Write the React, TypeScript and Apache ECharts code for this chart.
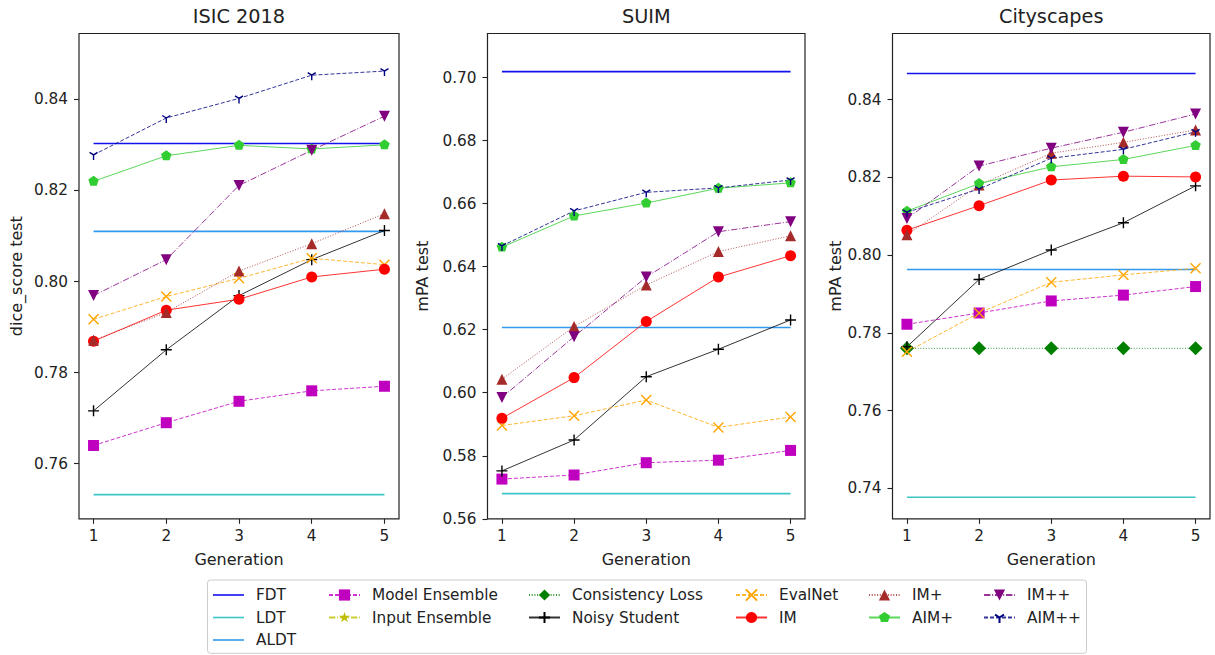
import React, { useEffect, useRef } from "react";
import * as echarts from "echarts";

// ---- data -------------------------------------------------------------
const generations = [1, 2, 3, 4, 5];
const panelTitles = ["ISIC 2018", "SUIM", "Cityscapes"];
const yAxisNames = ["dice_score test", "mPA test", "mPA test"];

// reference training baselines (constant across generations)
const fdt = [0.8303, 0.7019, 0.8467];
const ldt = [0.7532, 0.568, 0.7377];
const aldt = [0.811, 0.6207, 0.7963];

// ISIC 2018
const isicModelEnsemble = [0.764, 0.769, 0.7737, 0.776, 0.777];
const isicInputEnsemble: number[] = [];
const isicConsistencyLoss: number[] = [];
const isicNoisyStudent = [0.7716, 0.785, 0.7969, 0.8048, 0.8112];
const isicEvalNet = [0.7917, 0.7967, 0.8007, 0.8051, 0.8037];
const isicIM = [0.7869, 0.7937, 0.7961, 0.801, 0.8027];
const isicIMPlus = [0.7871, 0.7932, 0.8023, 0.8083, 0.8149];
const isicAIMPlus = [0.822, 0.8276, 0.8299, 0.8291, 0.83];
const isicIMPlusPlus = [0.7969, 0.8048, 0.8211, 0.8288, 0.8363];
const isicAIMPlusPlus = [0.8278, 0.8359, 0.8402, 0.8453, 0.8462];

// SUIM
const suimModelEnsemble = [0.5726, 0.5739, 0.5778, 0.5786, 0.5817];
const suimInputEnsemble: number[] = [];
const suimConsistencyLoss: number[] = [];
const suimNoisyStudent = [0.5752, 0.585, 0.6051, 0.6138, 0.6231];
const suimEvalNet = [0.5896, 0.5927, 0.5977, 0.589, 0.5923];
const suimIM = [0.5919, 0.6048, 0.6226, 0.6367, 0.6435];
const suimIMPlus = [0.6043, 0.621, 0.6342, 0.6448, 0.6498];
const suimAIMPlus = [0.6462, 0.6561, 0.6602, 0.6649, 0.6666];
const suimIMPlusPlus = [0.5985, 0.6178, 0.6367, 0.6511, 0.6543];
const suimAIMPlusPlus = [0.6466, 0.6577, 0.6636, 0.665, 0.6675];

// Cityscapes
const cityModelEnsemble = [0.7822, 0.7851, 0.7882, 0.7897, 0.7919];
const cityInputEnsemble: number[] = [];
const cityConsistencyLoss = [0.776, 0.776, 0.776, 0.776, 0.776];
const cityNoisyStudent = [0.7764, 0.7937, 0.8013, 0.8083, 0.8178];
const cityEvalNet = [0.7751, 0.7851, 0.793, 0.7949, 0.7966];
const cityIM = [0.8064, 0.8127, 0.8193, 0.8203, 0.8201];
const cityIMPlus = [0.8052, 0.818, 0.8262, 0.829, 0.8322];
const cityAIMPlus = [0.8113, 0.8184, 0.8227, 0.8246, 0.8282];
const cityIMPlusPlus = [0.8094, 0.8229, 0.8275, 0.8316, 0.8363];
const cityAIMPlusPlus = [0.811, 0.817, 0.8249, 0.8272, 0.8317];

// y tick labels per panel
const yTicks = [
  [0.76, 0.78, 0.8, 0.82, 0.84],
  [0.56, 0.58, 0.6, 0.62, 0.64, 0.66, 0.68, 0.7],
  [0.74, 0.76, 0.78, 0.8, 0.82, 0.84],
];
const yRanges = [
  [0.7479, 0.85445],
  [0.56, 0.714],
  [0.73215, 0.857],
];

const methodSeries: Record<string, number[][]> = {
  "Model Ensemble": [isicModelEnsemble, suimModelEnsemble, cityModelEnsemble],
  "Input Ensemble": [isicInputEnsemble, suimInputEnsemble, cityInputEnsemble],
  "Consistency Loss": [isicConsistencyLoss, suimConsistencyLoss, cityConsistencyLoss],
  "Noisy Student": [isicNoisyStudent, suimNoisyStudent, cityNoisyStudent],
  EvalNet: [isicEvalNet, suimEvalNet, cityEvalNet],
  IM: [isicIM, suimIM, cityIM],
  "IM+": [isicIMPlus, suimIMPlus, cityIMPlus],
  "AIM+": [isicAIMPlus, suimAIMPlus, cityAIMPlus],
  "IM++": [isicIMPlusPlus, suimIMPlusPlus, cityIMPlusPlus],
  "AIM++": [isicAIMPlusPlus, suimAIMPlusPlus, cityAIMPlusPlus],
};

// ---- styling ----------------------------------------------------------
const FONT = "DejaVu Sans";
const INK = "#222222";

const SYM = {
  triDown: "path://M0,0L10,0L5,10Z",
  pentagon: "path://M5,10M5,0L9.755,3.455L7.939,9.045L2.061,9.045L0.245,3.455Z",
  star:
    "path://M5,10M5,0L6.123,3.455L9.755,3.455L6.816,5.59L7.939,9.045L5,6.91L2.061,9.045L3.184,5.59L0.245,3.455L3.877,3.455Z",
  plus: "path://M5,0L5,10M0,5L10,5",
  cross: "path://M0,0L10,10M10,0L0,10",
  tri1: "path://M0,0M10,10M5,5L5,10M5,5L1,2.5M5,5L9,2.5",
};

const DASHED = [4, 2];
const DOTTED = [1, 1.7];
const DASHDOT = [6.4, 1.8, 1, 1.8];

type Style = {
  color: string;
  dash: any;
  symbol: string;
  size: number;
  stroke?: boolean;
};

const methodStyle: Record<string, Style> = {
  "Model Ensemble": { color: "#bf00bf", dash: DASHED, symbol: "rect", size: 11 },
  "Input Ensemble": { color: "#bfbf00", dash: DASHDOT, symbol: SYM.star, size: 12 },
  "Consistency Loss": { color: "#007f00", dash: DOTTED, symbol: "diamond", size: 14 },
  "Noisy Student": { color: "#000000", dash: "solid", symbol: SYM.plus, size: 11, stroke: true },
  EvalNet: { color: "#ffa500", dash: DASHED, symbol: SYM.cross, size: 10, stroke: true },
  IM: { color: "#ff0000", dash: "solid", symbol: "circle", size: 11 },
  "IM+": { color: "#a52a2a", dash: DOTTED, symbol: "triangle", size: 11 },
  "AIM+": { color: "#32cd32", dash: "solid", symbol: SYM.pentagon, size: 11 },
  "IM++": { color: "#800080", dash: DASHDOT, symbol: SYM.triDown, size: 11 },
  "AIM++": { color: "#000080", dash: DASHED, symbol: SYM.tri1, size: 10, stroke: true },
};

const baselineStyle: Record<string, string> = {
  FDT: "#1212ee",
  LDT: "#3cc6c6",
  ALDT: "#3399ee",
};
const baselineValues: Record<string, number[]> = { FDT: fdt, LDT: ldt, ALDT: aldt };

const grids = [
  { left: 79, top: 33.5, width: 320, height: 485.3 },
  { left: 487.5, top: 33.5, width: 317.5, height: 485.3 },
  { left: 892.5, top: 33.5, width: 317.5, height: 485.3 },
];
const yNameGaps = [55, 57, 47];

const legendColumns = [
  ["FDT", "LDT", "ALDT"],
  ["Model Ensemble", "Input Ensemble"],
  ["Consistency Loss", "Noisy Student"],
  ["EvalNet", "IM"],
  ["IM+", "AIM+"],
  ["IM++", "AIM++"],
];
const legendLefts = [213, 328, 528, 735, 868, 983];

function buildOption() {
  const series: any[] = [];
  for (let p = 0; p < 3; p++) {
    for (const name of Object.keys(baselineValues)) {
      const v = baselineValues[name][p];
      series.push({
        type: "line",
        name,
        xAxisIndex: p,
        yAxisIndex: p,
        data: generations.map((g) => [g, v]),
        symbol: "none",
        lineStyle: { color: baselineStyle[name], width: 1.6 },
        itemStyle: { color: baselineStyle[name] },
        silent: true,
      });
    }
    for (const name of Object.keys(methodSeries)) {
      const vals = methodSeries[name][p];
      const st = methodStyle[name];
      series.push({
        type: "line",
        name,
        xAxisIndex: p,
        yAxisIndex: p,
        data: vals.map((v, i) => [generations[i], v]),
        symbol: st.symbol,
        symbolSize: st.size,
        symbolKeepAspect: true,
        lineStyle: { color: st.color, width: 1, type: st.dash, opacity: 0.8 },
        itemStyle: st.stroke
          ? { color: st.color, borderColor: st.color, borderWidth: 1.4 }
          : { color: st.color, borderWidth: 0 },
        silent: true,
      });
    }
  }

  const legends = legendColumns.map((names, c) => ({
    orient: "vertical",
    left: legendLefts[c],
    top: 587,
    padding: 0,
    itemWidth: 31,
    itemHeight: 14,
    itemGap: 6.5,
    selectedMode: false,
    textStyle: { fontFamily: FONT, fontSize: 15.3, color: INK, lineHeight: 16, padding: [0, 0, 0, 7] },
    data: names.map((n) =>
      baselineStyle[n]
        ? { name: n, icon: "path://M0,0H31V1.6H0Z" }
        : { name: n }
    ),
  }));

  return {
    animation: false,
    backgroundColor: "#ffffff",
    title: grids.map((g, i) => ({
      text: panelTitles[i],
      left: g.left + g.width / 2,
      top: 7,
      padding: 0,
      textAlign: "center",
      textStyle: { fontFamily: FONT, fontSize: 19.3, fontWeight: "normal", color: INK },
    })),
    grid: grids.map((g) => ({
      ...g,
      show: true,
      borderColor: INK,
      borderWidth: 1.2,
      backgroundColor: "transparent",
      containLabel: false,
    })),
    xAxis: grids.map((_, i) => ({
      type: "value",
      gridIndex: i,
      min: 0.8,
      max: 5.2,
      name: "Generation",
      nameLocation: "middle",
      nameGap: 33,
      nameTextStyle: { fontFamily: FONT, fontSize: 16, color: INK },
      axisLine: { show: false },
      splitLine: { show: false },
      axisTick: { show: true, length: 5, customValues: generations, lineStyle: { color: INK, width: 1.1 } },
      axisLabel: {
        customValues: generations,
        fontFamily: FONT,
        fontSize: 15.3,
        color: INK,
        margin: 9.5,
        formatter: (v: number) => String(v),
      },
    })),
    yAxis: grids.map((_, i) => ({
      type: "value",
      gridIndex: i,
      min: yRanges[i][0],
      max: yRanges[i][1],
      name: yAxisNames[i],
      nameLocation: "middle",
      nameGap: yNameGaps[i],
      nameTextStyle: { fontFamily: FONT, fontSize: 16, color: INK },
      axisLine: { show: false },
      splitLine: { show: false },
      axisTick: { show: true, length: 5, customValues: yTicks[i], lineStyle: { color: INK, width: 1.1 } },
      axisLabel: {
        customValues: yTicks[i],
        fontFamily: FONT,
        fontSize: 15.3,
        color: INK,
        margin: 11,
        formatter: (v: number) => v.toFixed(2),
      },
    })),
    legend: legends,
    graphic: [
      {
        type: "rect",
        z: -1,
        silent: true,
        shape: { x: 207.5, y: 580, width: 879, height: 73.3, r: 3 },
        style: { fill: "#ffffff", stroke: "#cccccc", lineWidth: 1 },
      },
    ],
    series,
  };
}

export default function App() {
  const ref = useRef<HTMLDivElement>(null);
  useEffect(() => {
    if (!ref.current) return;
    const chart = echarts.init(ref.current, undefined, { renderer: "svg" });
    chart.setOption(buildOption() as any);
    return () => chart.dispose();
  }, []);
  return (
    <div
      ref={ref}
      style={{ position: "absolute", left: 0, top: 0, width: 1215, height: 655, background: "#fff" }}
    />
  );
}
